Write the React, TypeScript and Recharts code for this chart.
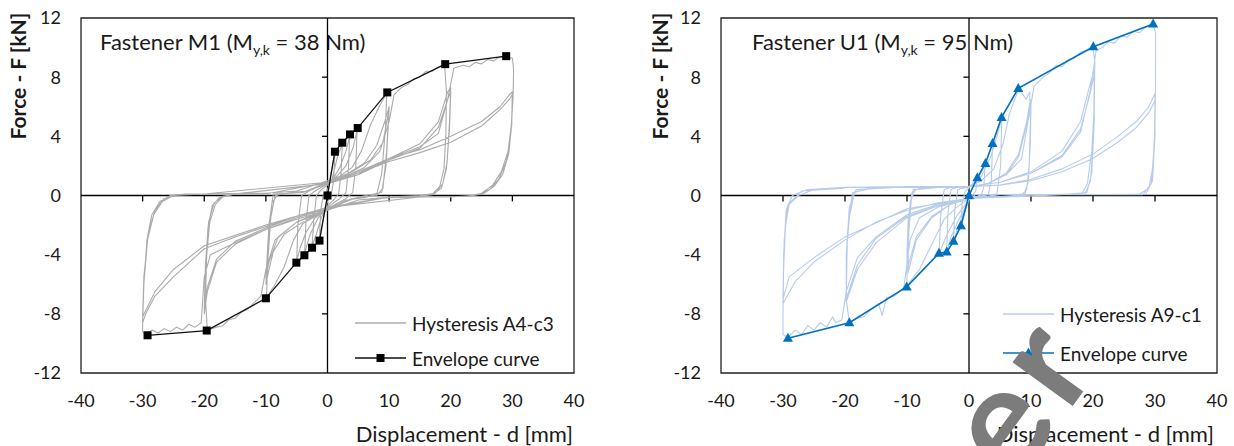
import React from "react";
import { LineChart, Line, XAxis, YAxis, ReferenceLine, ReferenceArea, Customized } from "recharts";

const FONT = "Lato, 'Open Sans', sans-serif";
const TEXT = "#1a1a1a";

const xTicks = [-40, -30, -20, -10, 0, 10, 20, 30, 40];
const yTicks = [-12, -8, -4, 0, 4, 8, 12];
const zeroTicksX = [-30, -20, -10, 10, 20, 30];
const zeroTicksY = [-8, -4, 4, 8];

// envelope points [d mm, F kN]
const envelopeM1: [number, number][] = [
  [-29.2, -9.45], [-19.6, -9.13], [-10.0, -6.95], [-5.05, -4.54], [-3.75, -4.04], [-2.5, -3.53], [-1.3, -3.05],
  [0, 0], [1.2, 2.96], [2.4, 3.57], [3.65, 4.13], [4.9, 4.56], [9.7, 6.97], [19.1, 8.88], [29.0, 9.42],
];
const envelopeU1: [number, number][] = [
  [-29.2, -9.65], [-19.3, -8.6], [-10.05, -6.18], [-4.85, -3.91], [-3.6, -3.82], [-2.5, -3.1], [-1.3, -2.04],
  [0, 0], [1.35, 1.2], [2.65, 2.17], [3.8, 3.52], [5.25, 5.28], [7.95, 7.24], [20.05, 10.05], [29.7, 11.59],
];

const hysteresisM1: [number, number][] = [
  [0, 0], [0.5, 1.4], [1.2, 2.9], [1.0, 1.0], [0.6, 0.0], [0, -0.4], [-0.6, -1.4], [-1.3, -2.9], [-1.1, -1.0], [-0.7, 0.0], [0, 0.4],
  [0.8, 1.2], [1.6, 2.6], [2.4, 3.5], [2.2, 1.5], [1.8, 0.1], [1, -0.3], [0, -0.7], [-1, -1.5], [-1.8, -2.6], [-2.5, -3.4], [-2.2, -1.5], [-1.8, 0], [-1, 0.4], [0, 0.7],
  [1, 1.2], [2, 1.9], [3, 3.0], [3.6, 4.0], [3.4, 1.8], [3.0, 0.2], [2, -0.2], [0, -0.8], [-1.5, -1.5], [-2.8, -2.6], [-3.7, -3.9], [-3.5, -1.8], [-3.0, 0], [-2, 0.3], [0, 0.8],
  [1.5, 1.3], [3, 2.0], [4.2, 3.3], [4.8, 4.4], [4.6, 2.0], [4.1, 0.2], [3, -0.2], [0, -0.9], [-2, -1.5], [-3.5, -2.5], [-4.4, -3.5], [-5.0, -4.4], [-4.8, -2], [-4.2, 0], [-3, 0.3], [0, 0.9],
  [2, 1.3], [4, 1.9], [5.5, 3.0], [7, 4.8], [8.5, 6.1], [9.6, 6.9], [9.4, 4.5], [8.8, 1.5], [8, 0.1], [6, -0.15], [3, -0.3], [0, -1.0], [-2, -1.4], [-4, -1.9], [-5.5, -3.0], [-7, -4.8], [-8.5, -6.0], [-9.9, -6.9], [-9.7, -4.5], [-9.2, -1.5], [-8.5, 0], [-6, 0.2], [-3, 0.3], [0, 0.9],
  [3, 1.4], [6, 2.2], [8, 3.4], [9.3, 5.0], [10, 6.0], [9.6, 3], [9, 0.5], [8, 0], [4, -0.2], [0, -0.9], [-4, -1.8], [-7, -2.6], [-8.8, -3.8], [-9.6, -5.2], [-10, -6.0], [-9.6, -3], [-9, -0.5], [-8, 0.1], [-4, 0.2], [0, 0.9],
  [4, 1.6], [7, 2.4], [9, 3.6], [10, 5.8], [9.5, 2], [8.8, 0.2], [5, -0.1], [0, -0.9], [-5, -1.8], [-8, -2.8], [-9.5, -4.5], [-10, -5.6], [-9.5, -2], [-8.8, 0.1], [-4, 0.2], [0, 0.8],
  [3, 1.3], [6, 1.9], [8.5, 3.0], [10, 5.0], [10.8, 6.8], [12, 7.3], [13, 7.5], [14, 7.9], [15, 8.0], [16, 8.4], [17, 8.4], [18, 8.7], [19, 8.8], [19.3, 7], [19.2, 4], [18.9, 1.8], [18.2, 0.6], [17, 0.1], [15, -0.05], [10, -0.1], [5, -0.3], [0, -1.0],
  [-5, -1.8], [-8.5, -3.0], [-10, -5.0], [-10.8, -6.8], [-12, -7.3], [-13, -7.7], [-14, -7.9], [-15, -8.3], [-16, -8.4], [-17, -8.8], [-18, -8.9], [-19.5, -9.1], [-19.8, -7], [-19.6, -4], [-19.1, -1.8], [-18.2, -0.6], [-17, -0.1], [-15, 0.1], [-10, 0.15], [-5, 0.3], [0, 1.0],
  [5, 1.5], [10, 2.5], [15, 3.5], [18, 5.0], [19.5, 7.0], [20, 7.3], [19.8, 5], [19.4, 2.2], [18.7, 0.8], [17.5, 0.15], [15, 0], [10, -0.1], [0, -0.9], [-5, -1.5], [-10, -2.3], [-15, -3.3], [-18, -4.5], [-19.5, -6.5], [-20, -8.0], [-19.8, -5], [-19.4, -2.2], [-18.7, -0.7], [-17.5, -0.1], [-15, 0.1], [-10, 0.1], [0, 0.9],
  [5, 1.4], [10, 2.4], [15, 3.2], [18, 4.6], [19.5, 6.5], [20, 7.0], [19.8, 4.5], [19.3, 1.8], [18.5, 0.5], [17, 0.05], [15, -0.05], [10, -0.1], [0, -0.8], [-5, -1.4], [-10, -2.2], [-15, -3.1], [-18, -4.3], [-19.5, -6.2], [-20, -7.6], [-19.8, -4.6], [-19.3, -1.8], [-18.4, -0.5], [-17, -0.05], [-15, 0.1], [0, 0.8],
  [5, 1.4], [10, 2.5], [15, 3.3], [18, 4.2], [19.5, 6.5], [20.5, 8.6], [22, 8.8], [23, 8.7], [24, 9.0], [25, 8.9], [26, 9.2], [27, 9.1], [28, 9.4], [29, 9.3], [30, 9.3], [30.2, 8.5], [30.1, 6.5], [29.7, 4], [29, 2.3], [27.8, 1.1], [26.3, 0.4], [24.5, 0.05], [22, -0.05], [10, -0.15], [5, -0.3], [0, -1.0],
  [-5, -1.6], [-10, -2.3], [-15, -3.2], [-19, -4.0], [-20, -5.5], [-20.5, -8.6], [-21.5, -8.9], [-22.5, -8.7], [-23.5, -9.1], [-24.5, -8.9], [-25.5, -9.2], [-26.5, -9.0], [-27.5, -9.3], [-28.5, -9.1], [-29.5, -9.4], [-30, -9.2], [-30, -8.5], [-29.8, -6], [-29.3, -3], [-28.5, -1.3], [-27.2, -0.4], [-25.5, 0], [-23, 0.1], [-10, 0.15], [-5, 0.3], [0, 1.0],
  [5, 1.6], [10, 2.5], [15, 3.1], [20, 4.0], [25, 5.0], [28, 6.0], [29.5, 6.8], [30, 7.0], [29.9, 5], [29.3, 3], [28.2, 1.6], [26.8, 0.7], [25, 0.15], [23.5, 0], [20, -0.1], [10, -0.1], [0, -0.9], [-5, -1.4], [-10, -2.1], [-15, -2.8], [-20, -3.6], [-25, -5.5], [-28, -6.8], [-29.5, -8.0], [-30, -8.6], [-29.8, -6], [-29.2, -3], [-28.2, -1.3], [-26.8, -0.4], [-25, 0], [-20, 0.1], [0, 0.9],
  [5, 1.5], [10, 2.3], [15, 2.9], [20, 3.6], [25, 4.7], [28, 5.8], [29.5, 6.5], [30, 6.8], [29.9, 4.8], [29.4, 2.8], [28.4, 1.4], [27, 0.6], [25.2, 0.1], [23, -0.05], [15, -0.1], [0, -0.8], [-10, -2.0], [-20, -3.4], [-25, -5.0], [-28, -6.5], [-30, -8.2], [-29.8, -5.5], [-29.1, -2.6], [-28, -1.0], [-26.5, -0.2], [-24, 0.05],
];

const hysteresisU1: [number, number][] = [
  [0, 0], [0.7, 0.7], [1.3, 1.2], [1.1, 0.3], [0.6, 0.05], [0, -0.2], [-0.7, -1.1], [-1.3, -2.0], [-1.1, -0.5], [-0.6, 0.3], [0, 0.5],
  [1.2, 1.1], [2.0, 1.7], [2.6, 2.2], [2.4, 0.6], [2.0, 0.05], [1, 0.05], [0, -0.3], [-1.2, -1.5], [-2.0, -2.4], [-2.5, -3.1], [-2.3, -1], [-1.8, 0.4], [-1, 0.5], [0, 0.55],
  [1.5, 1.2], [2.8, 2.3], [3.8, 3.5], [3.6, 1], [3.1, 0.05], [2, 0.05], [0, -0.3], [-1.5, -1.5], [-2.8, -2.7], [-3.6, -3.8], [-3.4, -1.2], [-2.9, 0.4], [-2, 0.55], [0, 0.6],
  [2, 1.3], [3.5, 2.6], [4.5, 4], [5.3, 5.3], [5.1, 2], [4.5, 0.1], [3, 0.05], [0, -0.3], [-2, -1.4], [-3.5, -2.6], [-4.3, -3.4], [-4.8, -3.9], [-4.6, -1.5], [-4.0, 0.4], [-3, 0.55], [0, 0.6],
  [2, 1.0], [4, 1.8], [5.5, 3.5], [6.5, 5.5], [8, 7.2], [8.6, 6.9], [9.2, 6.5], [9.8, 7.0], [9.9, 5], [9.7, 2], [9.3, 0.4], [8.5, 0.05], [3, 0.05], [0, -0.2], [-2, -0.8], [-4, -1.6], [-6, -3.3], [-8, -5], [-10, -6.1], [-10, -4], [-9.8, -1.5], [-9.2, 0.2], [-8, 0.5], [-4, 0.6], [0, 0.6],
  [3, 0.8], [6, 1.5], [8, 2.8], [9.3, 5], [9.9, 6.5], [9.9, 4], [9.6, 1], [9, 0.1], [5, 0.05], [0, -0.2], [-3, -0.6], [-6, -1.5], [-8.5, -3], [-9.8, -5.2], [-9.8, -3], [-9.5, -0.5], [-9, 0.4], [-5, 0.55], [0, 0.6],
  [3, 0.8], [6, 1.4], [8, 2.6], [9.3, 4.8], [10, 6.2], [9.9, 3.5], [9.5, 0.8], [8.8, 0.05], [5, 0.05], [0, -0.2], [-3, -0.6], [-6, -1.4], [-8.5, -2.8], [-9.9, -4.9], [-9.7, -2.5], [-9.3, -0.3], [-8.7, 0.4], [-5, 0.55], [0, 0.6],
  [3, 0.8], [6, 1.4], [8.5, 2.5], [9.5, 5], [10.5, 7.4], [12, 8.0], [13, 8.3], [14, 8.8], [15, 8.7], [16, 9.2], [17, 9.3], [18, 9.7], [19, 9.8], [20, 10.0], [20.3, 9], [20.2, 6], [19.8, 3], [19.1, 0.8], [18.2, 0.1], [15, 0.05], [10, 0.05], [0, -0.2],
  [-5, -0.8], [-8, -1.5], [-9.5, -3], [-10.5, -6.2], [-12, -6.8], [-13.3, -6.9], [-14, -8.1], [-14.6, -7.3], [-16, -7.8], [-17, -8.2], [-18, -8.3], [-19.3, -8.6], [-19.8, -7], [-19.8, -4], [-19.3, -1.5], [-18.5, 0.2], [-16, 0.5], [-10, 0.6], [0, 0.6],
  [5, 0.9], [10, 1.6], [15, 3.0], [18, 5.0], [19.5, 7.5], [20.2, 8.5], [20.2, 5], [19.8, 1.5], [19, 0.2], [15, 0.05], [5, 0.05], [0, -0.2], [-5, -0.7], [-10, -1.5], [-15, -3.2], [-18, -5], [-19.8, -7.2], [-19.8, -4], [-19.3, -0.8], [-18.2, 0.4], [-12, 0.55], [0, 0.6],
  [5, 0.9], [10, 1.5], [15, 2.7], [18, 4.5], [19.6, 7], [20.2, 8.2], [20.1, 4], [19.6, 1], [18.7, 0.1], [10, 0.05], [0, -0.2], [-5, -0.7], [-10, -1.4], [-15, -2.9], [-18, -4.7], [-19.8, -7], [-19.6, -2.5], [-18.8, 0.2], [-15, 0.55], [0, 0.6],
  [5, 0.9], [10, 1.5], [15, 2.6], [18, 4.3], [19.6, 7.2], [20.5, 9.8], [21.5, 10.0], [22.5, 10.4], [23.5, 10.3], [24.5, 10.8], [25.5, 10.7], [26.5, 11.1], [27.5, 11.0], [28.5, 11.4], [29.7, 11.5], [30.1, 11], [30.1, 8], [30, 5], [29.7, 2], [29, 0.5], [27.5, 0.1], [25, 0.05], [15, 0.05], [5, 0.05], [0, -0.2],
  [-5, -0.6], [-10, -1.3], [-15, -2.8], [-18, -4.2], [-19.8, -6.5], [-20.5, -8.4], [-21.5, -8.6], [-22, -8.2], [-23, -8.9], [-24, -8.6], [-25, -9.1], [-26, -8.8], [-27, -9.4], [-28, -9.1], [-29.2, -9.6], [-30, -9.4], [-30, -8], [-29.9, -5], [-29.6, -2], [-29, -0.6], [-27.5, 0], [-25, 0.4], [-20, 0.55], [-10, 0.6], [0, 0.6],
  [5, 0.7], [10, 1.1], [15, 1.8], [20, 2.8], [24, 4], [27, 5], [29, 6], [30, 6.9], [30, 4], [29.6, 1], [28.5, 0.1], [20, 0.05], [10, 0.05], [0, -0.2], [-5, -0.5], [-10, -1.0], [-15, -1.8], [-20, -3.0], [-25, -4.5], [-28, -5.8], [-30, -7.3], [-29.9, -4], [-29.5, -1], [-28.5, 0], [-26, 0.4], [-20, 0.55], [0, 0.6],
  [5, 0.7], [10, 1.0], [15, 1.6], [20, 2.5], [24, 3.6], [27, 4.6], [29, 5.6], [30, 6.4], [29.9, 3.5], [29.4, 0.8], [28, 0.05], [15, 0.05], [0, -0.2], [-10, -0.9], [-20, -2.8], [-25, -4.2], [-29, -5.5], [-30, -7.0], [-29.8, -3], [-29.2, -0.6], [-27, 0.3], [-20, 0.5],
];

const toRows = (pts: [number, number][]) => pts.map(([d, f]) => ({ d, f }));

const SquareDot = (p: any) => (
  <rect key={`s${p.index}`} x={p.cx - 4} y={p.cy - 4} width={8} height={8} fill="#000" />
);
const TriangleDot = (p: any) => (
  <path key={`t${p.index}`} d={`M${p.cx},${p.cy - 5.5} L${p.cx + 5},${p.cy + 3.5} L${p.cx - 5},${p.cy + 3.5} Z`} fill="#0070c0" />
);

interface PanelProps {
  left: number;
  marginLeft: number;
  marginRight: number;
  hysteresis: [number, number][];
  envelope: [number, number][];
  hystColor: string;
  envColor: string;
  marker: "square" | "triangle";
  fastener: string;
  moment: string;
  legendLabel: string;
  titleX: number;
  noteX: number;
  legendX: number;
  legendY: [number, number];
  xTitleEnd: number;
}

function Panel(props: PanelProps) {
  const { marginLeft, marginRight, marker, envColor, hystColor, legendX, legendY } = props;
  const Dot = marker === "square" ? SquareDot : TriangleDot;
  const axisTick = { fill: TEXT, fontSize: 18, fontFamily: FONT };

  const Texts = () => (
    <g fontFamily={FONT} fill={TEXT}>
      <text x={props.titleX} y={76} transform={`rotate(-90 ${props.titleX} 76)`} textAnchor="middle" dominantBaseline="central" fontSize={21} fontWeight="bold">
        Force - F [kN]
      </text>
      <text x={props.xTitleEnd} y={442} textAnchor="end" fontSize={22}>
        Displacement - d [mm]
      </text>
      <text x={props.noteX} y={50} fontSize={22}>
        {`Fastener ${props.fastener} (M`}
        <tspan fontSize={14} dy={5}>y,k</tspan>
        <tspan dy={-5}>{` = ${props.moment} Nm)`}</tspan>
      </text>
      {/* legend */}
      <line x1={legendX} x2={legendX + 51} y1={legendY[0]} y2={legendY[0]} stroke={hystColor} strokeWidth={1.3} />
      <text x={legendX + 57} y={legendY[0]} dominantBaseline="central" fontSize={19}>{props.legendLabel}</text>
      <line x1={legendX} x2={legendX + 51} y1={legendY[1]} y2={legendY[1]} stroke={envColor} strokeWidth={1.5} />
      {marker === "square" ? (
        <rect x={legendX + 21.5} y={legendY[1] - 4} width={8} height={8} fill="#000" />
      ) : (
        <path d={`M${legendX + 25.5},${legendY[1] - 5.5} l5,9 l-10,0 Z`} fill={envColor} />
      )}
      <text x={legendX + 57} y={legendY[1]} dominantBaseline="central" fontSize={19}>Envelope curve</text>
    </g>
  );

  return (
    <div style={{ position: "absolute", left: props.left, top: 0 }}>
      <LineChart width={617} height={446} margin={{ top: 18, right: marginRight, bottom: 33, left: marginLeft }}>
        <XAxis
          type="number"
          dataKey="d"
          domain={[-40, 40]}
          ticks={xTicks}
          axisLine={false}
          tickLine={false}
          tickSize={0}
          tickMargin={21}
          height={40}
          tick={axisTick}
          allowDataOverflow
        />
        <YAxis
          type="number"
          domain={[-12, 12]}
          ticks={yTicks}
          axisLine={false}
          tickLine={false}
          tickSize={0}
          tickMargin={20}
          width={40}
          tick={axisTick}
          allowDataOverflow
        />
        <ReferenceArea x1={-40} x2={40} y1={-12} y2={12} fill="none" stroke="#222" strokeWidth={1.3} fillOpacity={0} />
        <ReferenceLine y={0} stroke="#000" strokeWidth={1.3} />
        <ReferenceLine x={0} stroke="#000" strokeWidth={1.3} />
        {zeroTicksX.map((t) => (
          <ReferenceLine key={`xt${t}`} segment={[{ x: t, y: 0 }, { x: t, y: -0.4 }]} stroke="#000" strokeWidth={1.3} />
        ))}
        {zeroTicksY.map((t) => (
          <ReferenceLine key={`yt${t}`} segment={[{ x: 0, y: t }, { x: -0.9, y: t }]} stroke="#000" strokeWidth={1.3} />
        ))}
        <Line
          data={toRows(props.hysteresis)}
          dataKey="f"
          type="linear"
          stroke={hystColor}
          strokeWidth={1.1}
          strokeLinejoin="round"
          dot={false}
          activeDot={false}
          isAnimationActive={false}
        />
        <Line
          data={toRows(props.envelope)}
          dataKey="f"
          type="linear"
          stroke={envColor}
          strokeWidth={marker === "square" ? 1.3 : 1.6}
          dot={Dot}
          activeDot={false}
          isAnimationActive={false}
        />
        <Customized component={Texts} />
      </LineChart>
    </div>
  );
}

export default function App() {
  return (
    <div style={{ position: "absolute", left: 0, top: 0, width: 1234, height: 446, background: "#fff", overflow: "hidden" }}>
      <Panel
        left={0}
        marginLeft={41}
        marginRight={43}
        hysteresis={hysteresisM1}
        envelope={envelopeM1}
        hystColor="#ababab"
        envColor="#111"
        marker="square"
        fastener="M1"
        moment="38"
        legendLabel="Hysteresis A4-c3"
        titleX={17}
        noteX={100}
        legendX={355}
        legendY={[323, 358]}
        xTitleEnd={573}
      />
      <Panel
        left={617}
        marginLeft={64}
        marginRight={17}
        hysteresis={hysteresisU1}
        envelope={envelopeU1}
        hystColor="#b7cbea"
        envColor="#0070c0"
        marker="triangle"
        fastener="U1"
        moment="95"
        legendLabel="Hysteresis A9-c1"
        titleX={42}
        noteX={135}
        legendX={386}
        legendY={[314, 353]}
        xTitleEnd={597}
      />
      {/* watermark fragment lying over the right panel */}
      <svg width={1234} height={446} style={{ position: "absolute", left: 0, top: 0, pointerEvents: "none" }}>
        <text x={1016} y={484} transform="rotate(-54 1016 484)" fontFamily={FONT} fontWeight="bold" fontSize={145} letterSpacing={10} fill="#7c7c7c">
          er
        </text>
      </svg>
    </div>
  );
}
